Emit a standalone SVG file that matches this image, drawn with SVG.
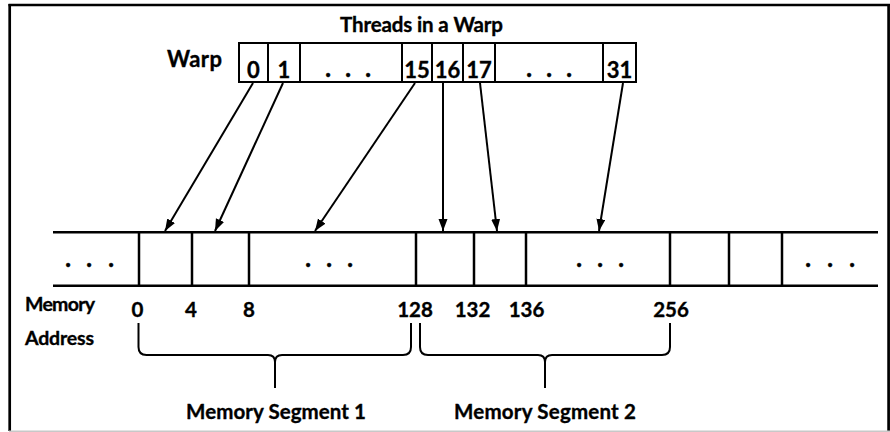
<svg xmlns="http://www.w3.org/2000/svg" width="890" height="432" viewBox="0 0 890 432">
  <style>
    text { font-family: Lato, "Liberation Sans", Arial, sans-serif; font-weight: bold; fill: #000; stroke: #000; stroke-width: 0.35px; }
    .num { font-size: 20.5px; text-anchor: middle; }
    .wn { font-size: 22px; text-anchor: middle; }
    .lbl { font-size: 20.5px; text-anchor: middle; }
    .side { font-size: 19.5px; }
    .dots { font-size: 26px; text-anchor: middle; }
    .ln { stroke: #000; stroke-width: 2.5; fill: none; }
    .box { stroke: #000; stroke-width: 2; fill: #fff; }
    .conn { stroke: #000; stroke-width: 2; fill: none; marker-end: url(#ah); }
    .brace { stroke: #000; stroke-width: 2; fill: none; stroke-linejoin: round; }
  </style>
  <defs>
    <marker id="ah" markerUnits="userSpaceOnUse" markerWidth="13" markerHeight="10" refX="12" refY="4.5" orient="auto">
      <path d="M0,0 L12,4.5 L0,9 z" fill="#000"/>
    </marker>
  </defs>
  <rect x="0" y="0" width="890" height="432" fill="#fff"/>

  <g id="frame">
    <line x1="8.5" y1="5" x2="890" y2="5" stroke="#000" stroke-width="2.5"/>
    <line x1="9.7" y1="4" x2="9.7" y2="431" stroke="#000" stroke-width="2.7"/>
    <line x1="888.6" y1="4" x2="888.6" y2="431" stroke="#000" stroke-width="2.7"/>
    <line x1="9" y1="431.3" x2="890" y2="431.3" stroke="#c8c8c8" stroke-width="1.4"/>
  </g>

  <g id="title">
    <text class="lbl" x="421.5" y="32" textLength="163">Threads in a Warp</text>
  </g>

  <g id="warp">
    <text x="167" y="67" style="font-size:22px" textLength="55">Warp</text>
    <rect class="box" x="239" y="43" width="397" height="39"/>
    <line class="box" x1="268" y1="43" x2="268" y2="82"/>
    <line class="box" x1="300" y1="43" x2="300" y2="82"/>
    <line class="box" x1="402" y1="43" x2="402" y2="82"/>
    <line class="box" x1="432" y1="43" x2="432" y2="82"/>
    <line class="box" x1="463" y1="43" x2="463" y2="82"/>
    <line class="box" x1="495" y1="43" x2="495" y2="82"/>
    <line class="box" x1="603" y1="43" x2="603" y2="82"/>
    <text class="wn" x="253.5" y="78">0</text>
    <text class="wn" x="284" y="78">1</text>
    <text class="dots" x="328 348 368" y="77">...</text>
    <text class="wn" x="417" y="78">15</text>
    <text class="wn" x="447.5" y="78">16</text>
    <text class="wn" x="479" y="78">17</text>
    <text class="dots" x="529 549 569" y="77">...</text>
    <text class="wn" x="619.5" y="78">31</text>
  </g>

  <g id="memory">
    <line class="ln" x1="53" y1="232.3" x2="878" y2="232.3"/>
    <line class="ln" x1="53" y1="285.7" x2="878" y2="285.7"/>
    <line class="ln" x1="139" y1="232" x2="139" y2="286"/>
    <line class="ln" x1="192" y1="232" x2="192" y2="286"/>
    <line class="ln" x1="249" y1="232" x2="249" y2="286"/>
    <line class="ln" x1="416" y1="232" x2="416" y2="286"/>
    <line class="ln" x1="474" y1="232" x2="474" y2="286"/>
    <line class="ln" x1="526" y1="232" x2="526" y2="286"/>
    <line class="ln" x1="670" y1="232" x2="670" y2="286"/>
    <line class="ln" x1="729" y1="232" x2="729" y2="286"/>
    <line class="ln" x1="782" y1="232" x2="782" y2="286"/>
    <text class="dots" x="68 89 111" y="267">...</text>
    <text class="dots" x="308 329 350" y="267">...</text>
    <text class="dots" x="579 600 621" y="267">...</text>
    <text class="dots" x="808 830 852" y="267">...</text>
  </g>

  <g id="addresses">
    <text class="side" x="25" y="311" textLength="70">Memory</text>
    <text class="side" x="25" y="345" textLength="69">Address</text>
    <text class="num" x="137.5" y="317">0</text>
    <text class="num" x="191" y="317">4</text>
    <text class="num" x="249" y="317">8</text>
    <text class="num" x="415" y="317">128</text>
    <text class="num" x="472.5" y="317">132</text>
    <text class="num" x="526.5" y="317">136</text>
    <text class="num" x="671" y="317">256</text>
  </g>

  <g id="segment1">
    <path class="brace" d="M138.5,323 L138.5,347 Q138.5,355 146.5,355 L268,355 Q275,355 275,362 L275,388 M275,362 Q275,355 282,355 L403,355 Q411,355 411,347 L411,323"/>
    <text class="lbl" x="276" y="419" textLength="180">Memory Segment 1</text>
  </g>

  <g id="segment2">
    <path class="brace" d="M420,323 L420,347 Q420,355 428,355 L538,355 Q545,355 545,362 L545,388 M545,362 Q545,355 552,355 L662,355 Q670,355 670,347 L670,323"/>
    <text class="lbl" x="545" y="419" textLength="182">Memory Segment 2</text>
  </g>

  <g id="connectors">
    <line class="conn" x1="253" y1="83" x2="165" y2="231"/>
    <line class="conn" x1="283" y1="83" x2="215" y2="231"/>
    <line class="conn" x1="415" y1="83" x2="315" y2="231"/>
    <line class="conn" x1="443" y1="83" x2="443" y2="231"/>
    <line class="conn" x1="480" y1="83" x2="497" y2="231"/>
    <line class="conn" x1="623" y1="83" x2="599" y2="231"/>
  </g>
</svg>
